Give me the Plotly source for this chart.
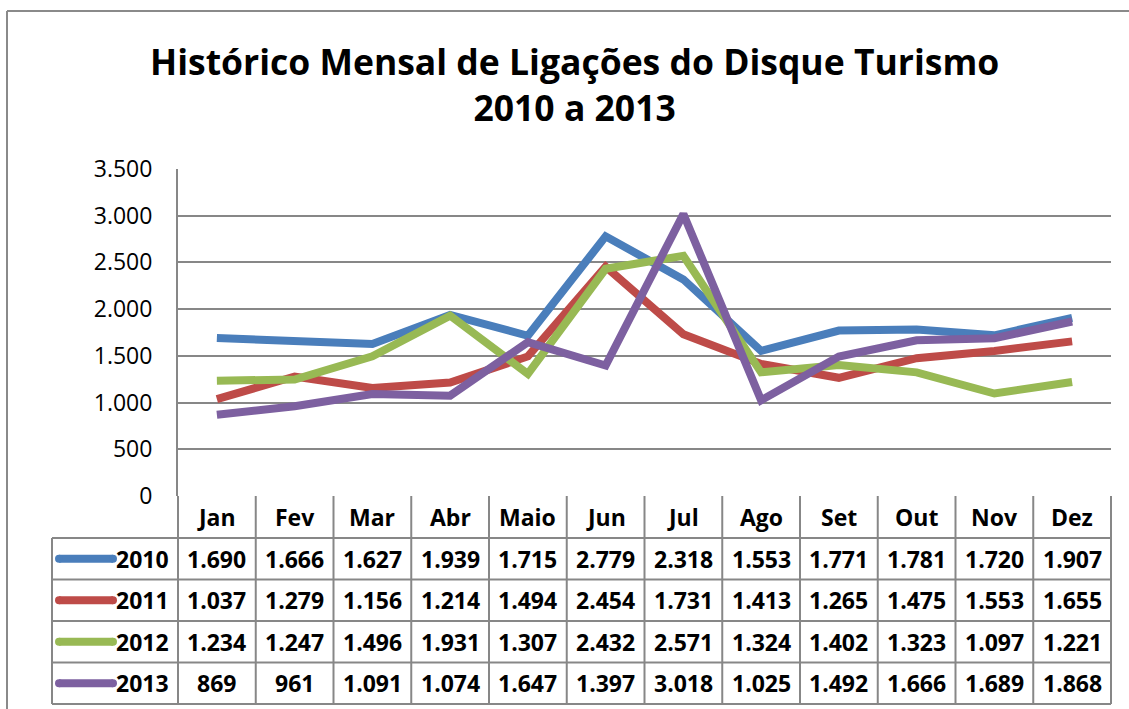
import plotly.graph_objects as go

months = ["Jan", "Fev", "Mar", "Abr", "Maio", "Jun", "Jul", "Ago", "Set", "Out", "Nov", "Dez"]
years = ["2010", "2011", "2012", "2013"]
v2010 = [1690, 1666, 1627, 1939, 1715, 2779, 2318, 1553, 1771, 1781, 1720, 1907]
v2011 = [1037, 1279, 1156, 1214, 1494, 2454, 1731, 1413, 1265, 1475, 1553, 1655]
v2012 = [1234, 1247, 1496, 1931, 1307, 2432, 2571, 1324, 1402, 1323, 1097, 1221]
v2013 = [869, 961, 1091, 1074, 1647, 1397, 3018, 1025, 1492, 1666, 1689, 1868]
series = [v2010, v2011, v2012, v2013]
colors = ["#4A7EBB", "#BE4B48", "#98B954", "#7D60A0"]

W, H = 1129, 709
L, R, T, B = 178, 18, 169, 213
PW, PH = W - L - R, H - T - B


def px(x):
    return (x - L) / PW


def py(y):
    return (H - B - y) / PH


FONT = "Open Sans"
GRID = "#878787"
fig = go.Figure()
for name, vals, col in zip(years, series, colors):
    fig.add_trace(go.Scatter(x=months, y=vals, name=name, mode="lines",
                             line=dict(color=col, width=8), showlegend=False))

shapes = []
annotations = []
# outer border (top and left edges only visible in the frame)
shapes.append(dict(type="line", xref="paper", yref="paper", x0=px(7), x1=px(1400),
                   y0=py(11), y1=py(11), line=dict(color="#8a8a8a", width=2), layer="below"))
shapes.append(dict(type="line", xref="paper", yref="paper", x0=px(7), x1=px(7),
                   y0=py(11), y1=py(1000), line=dict(color="#8a8a8a", width=2), layer="below"))

# table geometry
row_edges = [538, 579.5, 621, 662.5, 704]
hdr_top = 496
ncol = len(months)
for ye in row_edges:
    shapes.append(dict(type="line", xref="paper", yref="paper", x0=px(52), x1=1,
                       y0=py(ye), y1=py(ye), line=dict(color=GRID, width=2)))
for k in range(ncol + 1):
    shapes.append(dict(type="line", xref="paper", yref="paper", x0=k / ncol, x1=k / ncol,
                       y0=py(hdr_top), y1=py(row_edges[-1]), line=dict(color=GRID, width=2)))
shapes.append(dict(type="line", xref="paper", yref="paper", x0=px(52), x1=px(52),
                   y0=py(row_edges[0]), y1=py(row_edges[-1]), line=dict(color=GRID, width=2)))

tfont = dict(family=FONT, size=23, color="#000000", weight="bold")
for m in months:
    annotations.append(dict(x=m, xref="x", y=py((hdr_top + row_edges[0]) / 2), yref="paper",
                            text=m, showarrow=False, font=tfont, xanchor="center", yanchor="middle"))
for r, (name, vals, col) in enumerate(zip(years, series, colors)):
    yc = py((row_edges[r] + row_edges[r + 1]) / 2)
    shapes.append(dict(type="line", xref="paper", yref="paper", x0=px(59), x1=px(113),
                       y0=yc, y1=yc, line=dict(color=col, width=8)))
    for xc in (59, 113):
        shapes.append(dict(type="circle", xref="paper", yref="paper",
                           x0=px(xc - 4), x1=px(xc + 4), y0=yc - 4 / PH, y1=yc + 4 / PH,
                           fillcolor=col, line=dict(width=0)))
    annotations.append(dict(x=px(171), xref="paper", y=yc, yref="paper", text=name,
                            showarrow=False, font=tfont, xanchor="right", yanchor="middle"))
    for m, v in zip(months, vals):
        annotations.append(dict(x=m, xref="x", y=yc, yref="paper",
                                text=f"{v:,}".replace(",", "."), showarrow=False,
                                font=tfont, xanchor="center", yanchor="middle"))

annotations.append(dict(x=px(574), xref="paper", y=py(84), yref="paper",
                        text="Histórico Mensal de Ligações do Disque Turismo<br>2010 a 2013",
                        showarrow=False, xanchor="center", yanchor="middle",
                        font=dict(family=FONT, size=35.5, color="#000000", weight="bold")))

fig.update_layout(
    width=W, height=H,
    margin=dict(l=L, r=R, t=T, b=B),
    paper_bgcolor="white", plot_bgcolor="white",
    separators=",.",
    shapes=shapes, annotations=annotations,
    xaxis=dict(range=[-0.5, 11.5], showticklabels=False, showgrid=False,
               zeroline=False, showline=False, ticks=""),
    yaxis=dict(range=[0, 3500], dtick=500, tickformat=",.0f", showgrid=True,
               gridcolor=GRID, gridwidth=1.5, zeroline=False, showline=True,
               linecolor=GRID, linewidth=2, ticks="", ticklabelstandoff=19,
               tickfont=dict(family=FONT, size=23, color="#000000")),
)

fig.write_html("out.html", config={"displayModeBar": False},
               post_script="document.body.style.margin='0';document.body.style.overflow='hidden';")
